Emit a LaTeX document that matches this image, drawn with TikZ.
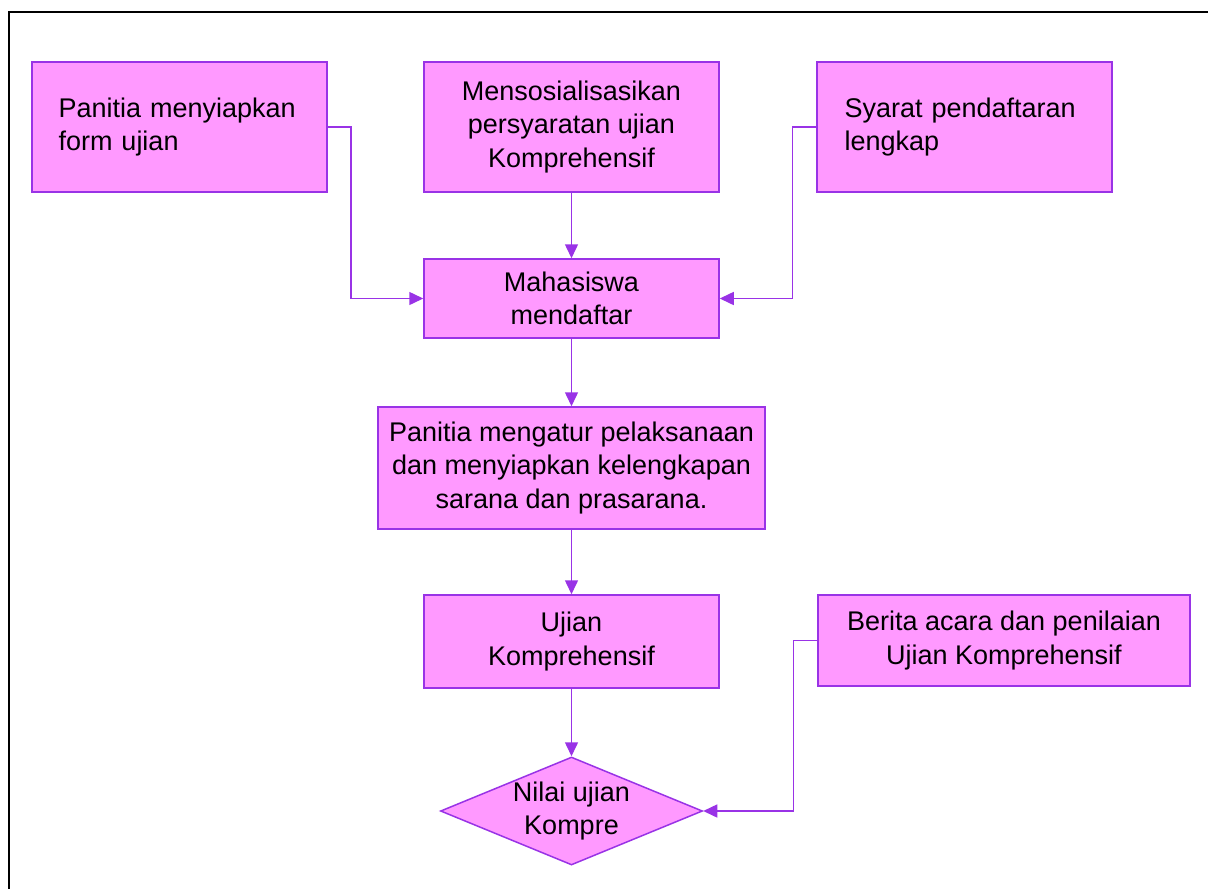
\documentclass[tikz,border=0pt]{standalone}
\usepackage{fontspec}
\setmainfont{Liberation Sans}
\usetikzlibrary{arrows.meta,shapes.geometric}
\definecolor{boxfill}{RGB}{255,153,255}
\definecolor{boxline}{RGB}{153,51,230}
\begin{document}
\begin{tikzpicture}[x=1pt,y=-1pt,
  box/.style={draw=boxline,fill=boxfill,line width=1.5pt,inner sep=0pt,
    font=\fontsize{27}{33.5}\selectfont,align=center},
  conn/.style={draw=boxline,line width=1.5pt,-{Triangle[length=14pt,width=13pt]}}]
\clip (0,0) rectangle (1208,889);
\fill[white] (0,0) rectangle (1208,889);
\draw[black,line width=2pt] (9,12) rectangle (1240,930);
\node[box,minimum width=295,minimum height=130,text width=242,align=left] (b1) at (179.5,127) {Panitia menyiapkan\\form ujian};
\node[box,minimum width=295,minimum height=130] (b2) at (571.5,127) {Mensosialisasikan\\persyaratan ujian\\Komprehensif};
\node[box,minimum width=295,minimum height=130,text width=240,align=left] (b3) at (964.5,127) {Syarat pendaftaran\\lengkap};
\node[box,minimum width=295,minimum height=79] (b4) at (571.5,298.5) {Mahasiswa\\mendaftar};
\node[box,minimum width=387,minimum height=122] (b5) at (571.5,468) {Panitia mengatur pelaksanaan\\dan menyiapkan kelengkapan\\sarana dan prasarana.};
\node[box,minimum width=295,minimum height=93] (b6) at (571.5,641.5) {Ujian\\Komprehensif};
\node[box,minimum width=372,minimum height=91] (b7) at (1004,640.5) {Berita acara dan penilaian\\Ujian Komprehensif};
\node[diamond,draw=boxline,fill=boxfill,line width=1.5pt,inner sep=0pt,aspect=2.43,minimum width=262,minimum height=108] (d) at (571.5,811) {};
\node[font=\fontsize{27}{33.5}\selectfont,align=center,inner sep=0pt] (dt) at (d.center) {Nilai ujian\\Kompre};
\draw[conn] (b1.east) -- ++(23,0) |- (b4.west);
\draw[conn] (b2.south) -- (b4.north);
\draw[conn] (b3.west) -- ++(-24,0) |- (b4.east);
\draw[conn] (b4.south) -- (b5.north);
\draw[conn] (b5.south) -- (b6.north);
\draw[conn] (b6.south) -- (d.north);
\draw[conn] (b7.west) -- ++(-24,0) |- (d.east);
\end{tikzpicture}
\end{document}
